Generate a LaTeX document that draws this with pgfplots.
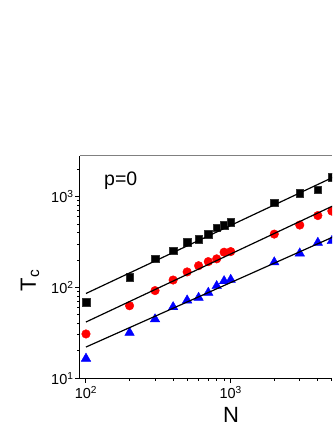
\documentclass[border=0pt]{standalone}
\usepackage{pgfplots}
\pgfplotsset{compat=1.18}
\usepackage{fontspec}
\setmainfont{Liberation Sans}

% T_c against N, three series with power-law fits
\begin{document}
\begin{tikzpicture}
\path[use as bounding box] (-79.5pt,-51.7pt) rectangle (252.5pt,378.3pt);
\begin{axis}[
    name=ax,
    scale only axis,
    width=252.5pt, height=222.6pt,
    xmode=log, ymode=log,
    xmin=90.2, xmax=5012,
    ymin=10, ymax=2835,
    axis x line*=bottom, axis y line*=left,
    axis line style={black, line width=1.1pt},
    tick align=outside,
    major tick length=4.5pt, minor tick length=2.5pt,
    tick style={black, line width=1pt},
    xtick={100,1000},
    xticklabels={10\textsuperscript{2},10\textsuperscript{3}},
    minor xtick={200,300,400,500,600,700,800,900,2000,3000,4000,5000},
    ytick={10,100,1000},
    yticklabels={10\textsuperscript{1},10\textsuperscript{2},10\textsuperscript{3}},
    minor ytick={20,30,40,50,60,70,80,90,200,300,400,500,600,700,800,900,2000},
    ticklabel style={font=\fontsize{14.5}{17}\selectfont},
    yticklabel style={xshift=2pt},
    xlabel={N},
    xlabel style={font=\fontsize{22}{26}\selectfont, at={(axis description cs:0.6,-0.1635)}, anchor=center},
    clip marker paths=true,
]
\addplot[only marks, mark=square*, mark size=3.8pt, black, mark options={fill=black, draw=black!80}] coordinates {
(100,69) (200,130) (300,208) (400,255) (500,316) (600,340) (700,387)
(800,457) (900,486) (1000,528) (2000,856) (3000,1090) (4000,1195) (5000,1650)
};
\addplot[only marks, mark=*, mark size=4.3pt, draw=red, fill=red] coordinates {
(100,30.8) (200,63) (300,92.5) (400,121) (500,148.6) (600,174) (700,193)
(800,207) (900,245) (1000,249) (2000,388) (3000,488) (4000,621) (5000,695)
};
\addplot[only marks, mark=triangle*, mark size=5.5pt, draw=blue, fill=blue] coordinates {
(100,16.5) (200,31.8) (300,44.8) (400,61) (500,72.3) (600,77.3) (700,87.8)
(800,104) (900,118) (1000,122) (2000,190) (3000,238) (4000,312) (5000,326)
};
\addplot[black, line width=1.2pt] coordinates {(100,86) (8000,2300)};
\addplot[black, line width=1.2pt] coordinates {(100,41.7) (8000,1114)};
\addplot[black, line width=1.2pt] coordinates {(100,22.1) (8000,497)};
\node[anchor=base west, font=\fontsize{19.5}{23}\selectfont, inner sep=0pt]
  at (axis description cs:0.097,0.868) {p=0};
\end{axis}
\draw[gray, line width=1.3pt] (ax.north west) -- (ax.north east);
\node[rotate=90, anchor=center, font=\fontsize{22}{26}\selectfont]
  at (-49.5pt,97.9pt) {T\textsubscript{c}};
\end{tikzpicture}
\end{document}
